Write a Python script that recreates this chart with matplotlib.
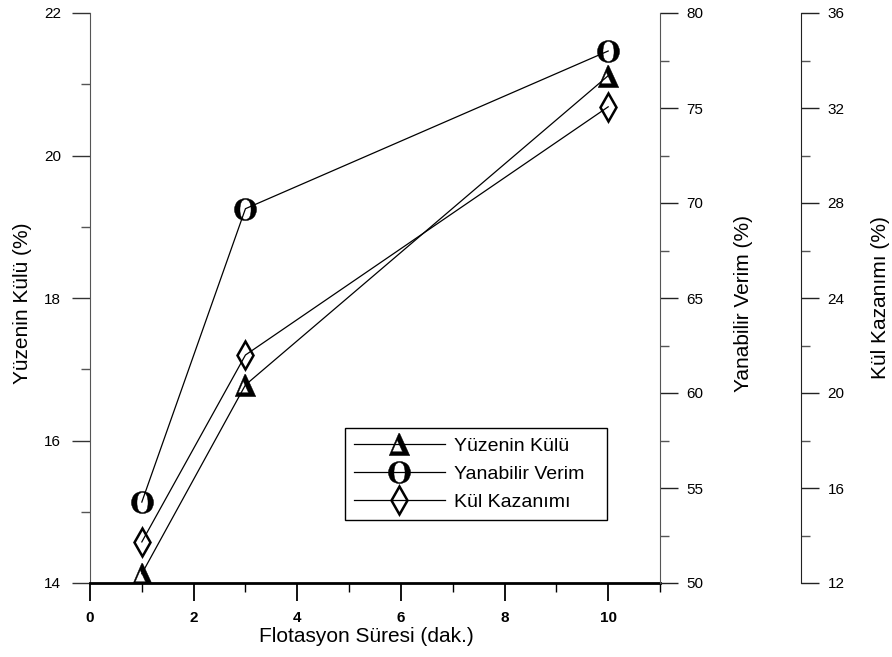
import matplotlib
matplotlib.use("Agg")
import matplotlib.pyplot as plt
from matplotlib.ticker import MultipleLocator

plt.rcParams['font.family'] = ['Liberation Sans', 'DejaVu Sans']
plt.rcParams['mathtext.fontset'] = 'stix'

# ---- data ----
sure = [1, 3, 10]
yuzenin_kulu = [14.13, 16.78, 21.12]
yanabilir_verim = [54.26, 69.7, 78.0]
kul_kazanimi = [13.73, 21.6, 32.05]

labels = ["Yüzenin Külü", "Yanabilir Verim", "Kül Kazanımı"]
xlabel = "Flotasyon Süresi (dak.)"
ylabel1 = "Yüzenin Külü (%)"
ylabel2 = "Yanabilir Verim (%)"
ylabel3 = "Kül Kazanımı (%)"

fig = plt.figure(figsize=(8.92, 6.57), dpi=100)
ax = fig.add_axes([90/892, 1-583/657, 570/892, 570/657])
ax2 = ax.twinx()
ax3 = ax.twinx()

for a in (ax, ax2, ax3):
    a.patch.set_visible(False)

for s in ['top', 'right']:
    ax.spines[s].set_visible(False)
ax.spines['left'].set_color('#555555')
ax.spines['bottom'].set_linewidth(2.0)
for s in ['top', 'left', 'bottom']:
    ax2.spines[s].set_visible(False)
    ax3.spines[s].set_visible(False)
ax2.spines['right'].set_color('#555555')
ax3.spines['right'].set_color('#222222')
ax3.spines['right'].set_position(('axes', (801-90)/570))

lw = 0.9
l1, = ax.plot(sure, yuzenin_kulu, marker=r'$\mathbf{\Delta}$', markersize=16,
              markeredgecolor='black', markerfacecolor='black', color='black', linewidth=lw,
              markeredgewidth=0.3, label=labels[0])
l2, = ax2.plot(sure, yanabilir_verim, marker=r'$\mathbf{O}$', markersize=16,
               markeredgecolor='black', markerfacecolor='black', color='black', linewidth=lw,
               markeredgewidth=0.3, label=labels[1])
l3, = ax3.plot(sure, kul_kazanimi, marker='d', markersize=14, markeredgewidth=1.8,
               markeredgecolor='black', markerfacecolor='none', color='black', linewidth=lw,
               label=labels[2])

ax.set_xlim(0, 11)
ax.set_ylim(14, 22)
ax2.set_ylim(50, 80)
ax3.set_ylim(12, 36)

ax.xaxis.set_minor_locator(MultipleLocator(1))
ax.yaxis.set_major_locator(MultipleLocator(2))
ax.yaxis.set_minor_locator(MultipleLocator(1))
ax2.yaxis.set_major_locator(MultipleLocator(5))
ax2.yaxis.set_minor_locator(MultipleLocator(2.5))
ax3.yaxis.set_major_locator(MultipleLocator(4))
ax3.yaxis.set_minor_locator(MultipleLocator(2))

ax.set_xticks([0, 2, 4, 6, 8, 10])
ax.tick_params(axis='x', which='major', direction='out', length=13, width=1.3, pad=7, labelsize=11)
ax.tick_params(axis='x', which='minor', direction='out', length=6.5, width=1.0)
for t in ax.get_xticklabels():
    t.set_fontweight('bold')
ax.tick_params(axis='y', which='major', direction='out', length=13, width=1.0, pad=8, labelsize=11, color='#333333')
ax.tick_params(axis='y', which='minor', direction='out', length=6.5, width=1.0, color='#555555')
for a in (ax2, ax3):
    a.tick_params(axis='y', which='major', direction='out', length=13, width=1.0, pad=6, labelsize=11, color='#222222')
    a.tick_params(axis='y', which='minor', direction='out', length=6.5, width=1.0, color='#555555')

ax.set_xlabel(xlabel, fontsize=15)
ax.xaxis.set_label_coords(0.485, -0.093)
ax.xaxis.label.set_va('center')
ax.set_ylabel(ylabel1, fontsize=15)
ax.yaxis.set_label_coords((22-90)/570, 0.49)
ax.yaxis.label.set_va('center')
ax2.set_ylabel(ylabel2, fontsize=15)
ax2.yaxis.set_label_coords((744-90)/570, 0.49)
ax2.yaxis.label.set_va('center')
ax3.set_ylabel(ylabel3, fontsize=15)
ax3.yaxis.set_label_coords((881-90)/570, 0.5)
ax3.yaxis.label.set_va('center')

leg = ax3.legend(handles=[l1, l2, l3], loc='lower left',
                 bbox_to_anchor=(255/570, 63/570, 262/570, 95/570), mode='expand',
                 borderaxespad=0, fancybox=False, edgecolor='black', framealpha=1,
                 fontsize=14, handlelength=4.7, handletextpad=0.45, labelspacing=0.55,
                 borderpad=0.45)
leg.get_frame().set_linewidth(1.0)

fig.savefig("out.png", dpi=100)
